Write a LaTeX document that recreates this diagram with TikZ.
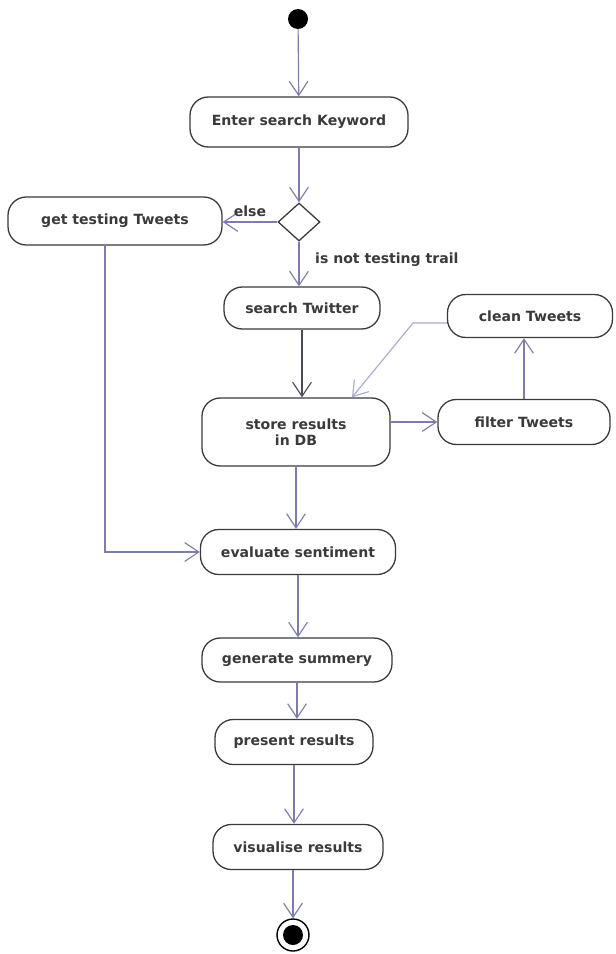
\documentclass[tikz,border=0pt]{standalone}
\usepackage{fontspec}
\setmainfont{DejaVu Sans}
\usepackage{tikz}
\usetikzlibrary{positioning,arrows.meta,calc,shapes.geometric}
\definecolor{cInk}{HTML}{3A3A3A}
\definecolor{cLine}{HTML}{7C7CAE}
\definecolor{cDark}{HTML}{4A4A5E}
\definecolor{cPale}{HTML}{ABABCF}
\tikzset{
  act/.style={draw=cInk, line width=1.1pt, rounded corners=0.55cm, fill=white,
              align=center, text=cInk, inner sep=2pt, font=\fontsize{12}{14}\selectfont\bfseries},
  ar/.style={-{Straight Barb[length=12pt,width=16pt]}, cLine, line width=1pt},
  tag/.style={font=\fontsize{12}{14}\selectfont\bfseries, text=cInk}
}

\begin{document}
\begin{tikzpicture}[x=0.03cm, y=-0.03cm]
\useasboundingbox (0,0) rectangle (615,954);
% start, keyword, decision
\node[circle, fill=black, minimum size=0.6cm, inner sep=0pt] (start) at (298,19) {};
\node[act, minimum width=6.54cm, minimum height=1.5cm] (enter) at (299,122) {Enter search Keyword};
\node[diamond, draw=cInk, line width=1.1pt, minimum width=1.26cm, minimum height=1.14cm, inner sep=0pt] (dec) at (299,222) {};
\node[act, minimum width=6.42cm, minimum height=1.44cm] (gtt) at (115,221) {get testing Tweets};
\node[act, minimum width=4.68cm, minimum height=1.26cm] (search) at (302,308) {search Twitter};
% store and filter loop
\node[act, minimum width=5.64cm, minimum height=2.04cm] (store) at (296,432) {store results\\in DB};
\node[act, minimum width=5.16cm, minimum height=1.35cm] (filter) at (524,422) {filter Tweets};
\node[act, minimum width=4.95cm, minimum height=1.29cm] (clean) at (530,316) {clean Tweets};
\coordinate (bend) at (413,323);
% lower chain
\node[act, minimum width=5.85cm, minimum height=1.35cm] (eval) at (298,552) {evaluate sentiment};
\node[act, minimum width=5.7cm, minimum height=1.32cm] (gen) at (297,660) {generate summery};
\node[act, minimum width=4.74cm, minimum height=1.35cm] (pres) at (294,742) {present results};
\node[act, minimum width=5.1cm, minimum height=1.35cm] (vis) at (298,847) {visualise results};
\node[circle, draw=black, line width=1.2pt, minimum size=0.96cm, inner sep=0pt] (stop) at (293,935) {};
\fill[black] (stop) circle (0.3cm);

\draw[ar] (start) -- (enter);
\draw[ar] (enter) -- (dec);
\draw[ar] (dec.west) -- node[tag, above=1pt]{else} (gtt.east |- dec.west);
\draw[ar] (dec.south) -- node[tag, right=10pt, pos=0.4]{is not testing trail} (dec.south |- search.north);
\draw[ar, cDark] (search) -- (search |- store.north);
\draw[ar] (store.east |- filter.west) -- (filter.west);
\draw[ar] (filter.north) -- (filter.north |- clean.south);
\draw[ar, cPale] (clean.west |- bend) -- (bend) -- ($(store.north)+(56,0)$);
\draw[ar] (store.south) -- (store.south |- eval.north);
\draw[ar] ($(gtt.south)+(-10,0)$) |- (eval.west);
\draw[ar] (eval.south) -- (eval.south |- gen.north);
\draw[ar] (gen.south) -- (gen.south |- pres.north);
\draw[ar] (pres.south) -- (pres.south |- vis.north);
\draw[ar] (vis.south -| stop) -- (stop.north);
\end{tikzpicture}
\end{document}
